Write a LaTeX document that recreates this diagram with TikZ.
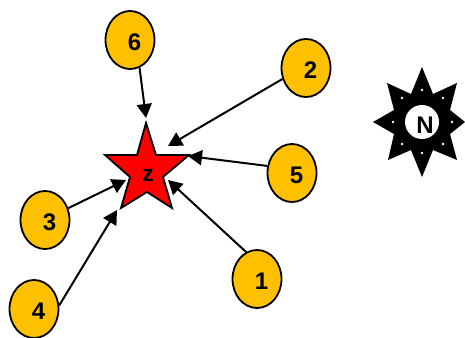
\documentclass[tikz,border=0pt]{standalone}
\usepackage{fontspec}
\setmainfont{Liberation Sans}
\usetikzlibrary{arrows.meta,shapes.geometric}
\definecolor{siteorange}{RGB}{255,192,0}
\tikzset{
  num/.style={xshift=4.5pt, yshift=-2.5pt, inner sep=0pt, font=\fontsize{24}{24}\selectfont\bfseries},
  site/.style={draw, line width=1.8pt, fill=siteorange, ellipse, minimum width=49pt, minimum height=58pt, inner sep=0pt},
  link/.style={line width=2pt, -{Triangle[length=14pt, width=15pt]}}
}

\begin{document}
\begin{tikzpicture}[x=1pt, y=-1pt]
    \useasboundingbox (0,0) rectangle (465,337);

    % star
    \draw [line width=1.8pt, fill=red, line join=miter]
      (146,123) -- (156,155) -- (189,155) -- (163,177) -- (172,208)
      -- (147,192) -- (121,208) -- (130,177) -- (105,155) -- (137,155) -- cycle;
    \node [font=\fontsize{23}{23}\selectfont\bfseries] (z) at (148,175) {z};

    % sites
    \node [site, label={[num]center:1}] (n1) at (257,279) {};
    \node [site, label={[num]center:2}] (n2) at (306,68) {};
    \node [site, label={[num]center:3}] (n3) at (45,220) {};
    \node [site, label={[num]center:4}] (n4) at (34,309) {};
    \node [site, label={[num]center:5}] (n5) at (292,173) {};
    \node [site, label={[num]center:6}] (n6) at (130,40) {};

    \coordinate (t1) at (168,180);
    \coordinate (t2) at (168,146);
    \coordinate (t3) at (126,180);
    \coordinate (t4) at (117,210);
    \coordinate (t5) at (188,156);
    \coordinate (t6) at (146,118);

    \draw [link] (n1.112) -- (t1);
    \draw [link] (n2.205) -- (t2);
    \draw [link] (n3.27) -- (t3);
    \draw [link] (n4.8) -- (t4);
    \draw [link] (n5.164) -- (t5);
    \draw [link] (n6.-71) -- (t6);

    % compass
    \fill [black]
      (422,67) -- (433,94) -- (457,83) -- (450,110) -- (465,122) -- (450,134)
      -- (457,160) -- (433,150) -- (422,177) -- (411,150) -- (388,160) -- (394,134)
      -- (373,122) -- (394,110) -- (387,83) -- (411,94) -- cycle;
    \foreach \x/\y in {422/90, 402/98, 443/98, 393/122, 452/122, 422/153, 402/144, 443/144}
      \fill [white] (\x,\y) circle (1.3pt);
    \node [fill=white, circle, minimum size=34pt, inner sep=0pt] (north) at (422,122) {};
    \node [font=\fontsize{24}{24}\selectfont\bfseries] (nlabel) at (425,125) {N};
\end{tikzpicture}
\end{document}
